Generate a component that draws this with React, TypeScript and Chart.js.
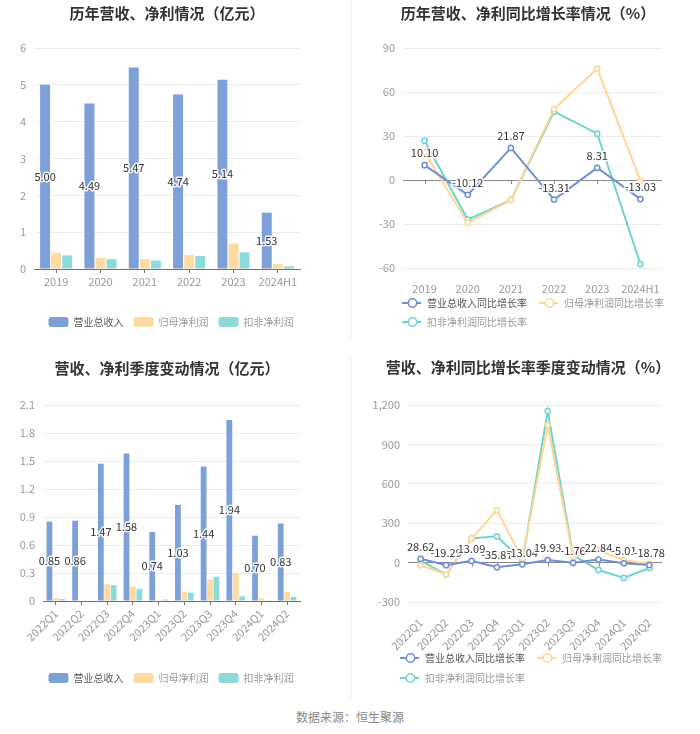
import React, { useEffect, useRef } from "react";
import { Chart, registerables } from "chart.js";

Chart.register(...registerables);

const FONT = '"Noto Sans CJK SC", "Noto Sans", sans-serif';
Chart.defaults.font.family = FONT;

// ---------- data ----------
const yearLabels = ["2019", "2020", "2021", "2022", "2023", "2024H1"];
const yearRevenue = [5.0, 4.49, 5.47, 4.74, 5.14, 1.53];
const yearNetProfit = [0.44, 0.3, 0.27, 0.38, 0.69, 0.14];
const yearDeductedProfit = [0.37, 0.27, 0.23, 0.35, 0.45, 0.07];

const yearRevenueGrowth = [10.1, -10.12, 21.87, -13.31, 8.31, -13.03];
const yearNetProfitGrowth = [19, -29.3, -13.6, 48.4, 76, -0.5];
const yearDeductedGrowth = [26.8, -27, -13.6, 46.6, 31.6, -57.3];

const quarterLabels = [
  "2022Q1", "2022Q2", "2022Q3", "2022Q4", "2023Q1",
  "2023Q2", "2023Q3", "2023Q4", "2024Q1", "2024Q2",
];
const quarterRevenue = [0.85, 0.86, 1.47, 1.58, 0.74, 1.03, 1.44, 1.94, 0.7, 0.83];
const quarterNetProfit = [0.03, 0.004, 0.18, 0.155, 0.01, 0.1, 0.23, 0.3, 0.03, 0.1];
const quarterDeductedProfit = [0.02, 0.007, 0.17, 0.13, 0.015, 0.09, 0.26, 0.05, 0.003, 0.045];

const quarterRevenueGrowth = [28.62, -19.29, 13.09, -35.87, -13.04, 19.93, -1.76, 22.84, -5.01, -18.78];
const quarterNetProfitGrowth = [-20, -89, 183, 399, 30, 1047, 43, 94, 18, -8];
const quarterDeductedGrowth = [13, -89, 183, 200, 10, 1154, 56, -56, -117, -41];

const seriesNames = ["营业总收入", "归母净利润", "扣非净利润"];
const growthNames = ["营业总收入同比增长率", "归母净利润同比增长率", "扣非净利润同比增长率"];

// ---------- styles ----------
const BAR_COLORS = ["rgb(125,160,216)", "rgb(254,219,162)", "rgb(140,218,217)"];
const LINE_COLORS = ["rgb(112,142,210)", "rgb(253,214,150)", "rgb(112,212,206)"];
const LEGEND_TEXT = ["#555", "#999", "#999"];

type Deco = {
  title: string;
  titleX: number;
  titleY: number;
  names: string[];
  colors: string[];
  kind: "bar" | "line";
  rows: number[][];
  rowY: number[];
  legendCenter?: number;
  legendX?: number;
};

function makeDecoPlugin(d: Deco) {
  return {
    id: "deco",
    beforeDatasetsDraw(chart: any) {
      if (d.kind !== "line") return;
      const ctx = chart.ctx;
      const xs = chart.scales.x;
      const y0 = chart.scales.y.getPixelForValue(0);
      ctx.save();
      ctx.strokeStyle = "#888";
      ctx.lineWidth = 1;
      for (let i = 0; i < chart.data.labels.length; i++) {
        const x = Math.round(xs.getPixelForValue(i)) + 0.5;
        ctx.beginPath();
        ctx.moveTo(x, y0);
        ctx.lineTo(x, y0 + 4);
        ctx.stroke();
      }
      ctx.restore();
    },
    afterDatasetsDraw(chart: any) {
      const ctx = chart.ctx;
      const meta = chart.getDatasetMeta(0);
      const data = chart.data.datasets[0].data as number[];
      ctx.save();
      ctx.font = `11px ${FONT}`;
      ctx.textAlign = "center";
      ctx.textBaseline = "middle";
      ctx.lineJoin = "round";
      meta.data.forEach((el: any, i: number) => {
        const text = data[i].toFixed(2);
        const x = el.x;
        const y = d.kind === "bar" ? (el.y + el.base) / 2 : el.y - 12;
        ctx.strokeStyle = "rgba(255,255,255,0.9)";
        ctx.lineWidth = 3;
        ctx.strokeText(text, x, y);
        ctx.fillStyle = "#333";
        ctx.fillText(text, x, y);
      });
      ctx.restore();
    },
    afterDraw(chart: any) {
      const ctx = chart.ctx;
      ctx.save();
      // title
      ctx.font = `bold 15px ${FONT}`;
      ctx.textAlign = "center";
      ctx.textBaseline = "middle";
      ctx.fillStyle = "#333";
      ctx.fillText(d.title, d.titleX, d.titleY);
      // legend
      ctx.font = `10px ${FONT}`;
      ctx.textAlign = "left";
      const iconW = d.kind === "bar" ? 25 : 25;
      const gap = d.kind === "bar" ? 10 : 12;
      const widths = d.names.map((n) => iconW + ctx.measureText(n).width + gap);
      let startX = d.legendX ?? 0;
      if (d.legendCenter !== undefined) {
        const w0 = d.rows[0].reduce((s, i) => s + widths[i], 0) - gap;
        startX = d.legendCenter - w0 / 2;
      }
      d.rows.forEach((row, r) => {
        let x = startX;
        const y = d.rowY[r];
        row.forEach((i) => {
          const c = d.colors[i];
          if (d.kind === "bar") {
            ctx.fillStyle = c;
            ctx.beginPath();
            (ctx as any).roundRect(x, y - 5, 20, 10, 3);
            ctx.fill();
          } else {
            ctx.strokeStyle = c;
            ctx.lineWidth = 2;
            ctx.beginPath();
            ctx.moveTo(x, y);
            ctx.lineTo(x + 19, y);
            ctx.stroke();
            ctx.beginPath();
            ctx.arc(x + 10.5, y, 4.2, 0, Math.PI * 2);
            ctx.fillStyle = "#fff";
            ctx.fill();
            ctx.lineWidth = 1.6;
            ctx.stroke();
          }
          ctx.fillStyle = LEGEND_TEXT[i];
          ctx.fillText(d.names[i], x + iconW, y);
          x += widths[i];
        });
      });
      ctx.restore();
    },
  };
}

type AxisCfg = {
  min: number;
  max: number;
  step: number;
  yWidth: number;
  xHeight: number;
  rotate: number;
  padding: { top: number; right: number; bottom: number; left: number };
  fmt?: (v: number) => string;
};

function buildConfig(
  kind: "bar" | "line",
  labels: string[],
  series: number[][],
  names: string[],
  axis: AxisCfg,
  deco: Deco
): any {
  const datasets = series.map((s, i) =>
    kind === "bar"
      ? {
          label: names[i],
          data: s,
          backgroundColor: BAR_COLORS[i],
          barPercentage: 0.9,
          categoryPercentage: 0.75,
        }
      : {
          label: names[i],
          data: s,
          borderColor: LINE_COLORS[i],
          backgroundColor: "#fff",
          pointBackgroundColor: "#fff",
          pointBorderColor: LINE_COLORS[i],
          pointRadius: 2.6,
          pointBorderWidth: 1.5,
          borderWidth: 2,
          tension: 0,
          fill: false,
        }
  );
  const xScale: any = {
    offset: true,
    ticks: {
      color: "#999",
      font: { size: 11 },
      padding: kind === "bar" ? 2 : 6,
      autoSkip: false,
      maxRotation: axis.rotate,
      minRotation: axis.rotate,
    },
    afterFit: (s: any) => {
      s.height = axis.xHeight;
    },
  };
  if (kind === "bar") {
    xScale.grid = {
      display: true,
      drawOnChartArea: false,
      drawTicks: true,
      tickLength: 4,
      offset: false,
      color: "#6E7079",
    };
    xScale.border = { display: true, color: "#6E7079" };
  } else {
    xScale.grid = { display: false };
    xScale.border = { display: false };
  }
  return {
    type: kind,
    data: { labels, datasets },
    options: {
      responsive: false,
      animation: false,
      events: [],
      layout: { padding: axis.padding },
      plugins: {
        legend: { display: false },
        title: { display: false },
        tooltip: { enabled: false },
      },
      scales: {
        x: xScale,
        y: {
          min: axis.min,
          max: axis.max,
          ticks: {
            stepSize: axis.step,
            color: "#999",
            font: { size: 11 },
            padding: 8,
            callback: (v: any) =>
              axis.fmt ? axis.fmt(Number(v)) : String(v),
          },
          grid: {
            drawTicks: false,
            color: (c: any) =>
              kind === "line" && c.tick && Math.abs(c.tick.value) < 1e-9
                ? "#888"
                : "#ececec",
          },
          border: { display: false },
          afterFit: (s: any) => {
            s.width = axis.yWidth;
          },
        },
      },
    },
    plugins: [makeDecoPlugin(deco)],
  };
}

function ChartBox(props: {
  left: number;
  top: number;
  width: number;
  height: number;
  config: () => any;
}) {
  const ref = useRef<HTMLCanvasElement | null>(null);
  useEffect(() => {
    if (!ref.current) return;
    const chart = new Chart(ref.current, props.config());
    return () => chart.destroy();
  }, []);
  return (
    <canvas
      ref={ref}
      width={props.width}
      height={props.height}
      style={{
        position: "absolute",
        left: props.left,
        top: props.top,
        width: props.width,
        height: props.height,
      }}
    />
  );
}

const fmt1 = (v: number) => String(Number(v.toFixed(1)));
const fmtInt = (v: number) => Math.round(v).toLocaleString("en-US");

export default function App() {
  return (
    <div
      style={{
        position: "absolute",
        left: 0,
        top: 0,
        width: 700,
        height: 734,
        background: "#fff",
        overflow: "hidden",
      }}
    >
      <ChartBox
        left={0}
        top={0}
        width={350}
        height={345}
        config={() =>
          buildConfig(
            "bar",
            yearLabels,
            [yearRevenue, yearNetProfit, yearDeductedProfit],
            seriesNames,
            {
              min: 0,
              max: 6,
              step: 1,
              yWidth: 34,
              xHeight: 30,
              rotate: 0,
              padding: { top: 48, right: 50, bottom: 46, left: 0 },
            },
            {
              title: "历年营收、净利情况（亿元）",
              titleX: 167,
              titleY: 13,
              names: seriesNames,
              colors: BAR_COLORS,
              kind: "bar",
              rows: [[0, 1, 2]],
              rowY: [322],
              legendCenter: 171,
            }
          )
        }
      />
      <ChartBox
        left={350}
        top={0}
        width={350}
        height={345}
        config={() =>
          buildConfig(
            "line",
            yearLabels,
            [yearRevenueGrowth, yearNetProfitGrowth, yearDeductedGrowth],
            growthNames,
            {
              min: -60,
              max: 90,
              step: 30,
              yWidth: 53,
              xHeight: 30,
              rotate: 0,
              padding: { top: 48, right: 38, bottom: 47, left: 0 },
            },
            {
              title: "历年营收、净利同比增长率情况（%）",
              titleX: 178,
              titleY: 13,
              names: growthNames,
              colors: LINE_COLORS,
              kind: "line",
              rows: [[0, 1], [2]],
              rowY: [303, 322],
              legendX: 52,
            }
          )
        }
      />
      <ChartBox
        left={0}
        top={350}
        width={350}
        height={350}
        config={() =>
          buildConfig(
            "bar",
            quarterLabels,
            [quarterRevenue, quarterNetProfit, quarterDeductedProfit],
            seriesNames,
            {
              min: 0,
              max: 2.1,
              step: 0.3,
              yWidth: 43,
              xHeight: 50,
              rotate: 45,
              padding: { top: 55, right: 50, bottom: 49, left: 0 },
              fmt: fmt1,
            },
            {
              title: "营收、净利季度变动情况（亿元）",
              titleX: 167,
              titleY: 18,
              names: seriesNames,
              colors: BAR_COLORS,
              kind: "bar",
              rows: [[0, 1, 2]],
              rowY: [328],
              legendCenter: 171,
            }
          )
        }
      />
      <ChartBox
        left={350}
        top={350}
        width={350}
        height={350}
        config={() =>
          buildConfig(
            "line",
            quarterLabels,
            [quarterRevenueGrowth, quarterNetProfitGrowth, quarterDeductedGrowth],
            growthNames,
            {
              min: -300,
              max: 1200,
              step: 300,
              yWidth: 58,
              xHeight: 50,
              rotate: 45,
              padding: { top: 55, right: 38, bottom: 48, left: 0 },
              fmt: fmtInt,
            },
            {
              title: "营收、净利同比增长率季度变动情况（%）",
              titleX: 178,
              titleY: 17,
              names: growthNames,
              colors: LINE_COLORS,
              kind: "line",
              rows: [[0, 1], [2]],
              rowY: [308, 328],
              legendX: 50,
            }
          )
        }
      />
      <div
        style={{
          position: "absolute",
          left: 351,
          top: 0,
          width: 1,
          height: 340,
          background: "#f3f3f3",
        }}
      />
      <div
        style={{
          position: "absolute",
          left: 351,
          top: 356,
          width: 1,
          height: 344,
          background: "#f3f3f3",
        }}
      />
      <div
        style={{
          position: "absolute",
          left: 0,
          top: 709,
          width: 700,
          textAlign: "center",
          fontFamily: FONT,
          fontSize: 12,
          lineHeight: "16px",
          color: "#888",
        }}
      >
        数据来源：恒生聚源
      </div>
    </div>
  );
}
